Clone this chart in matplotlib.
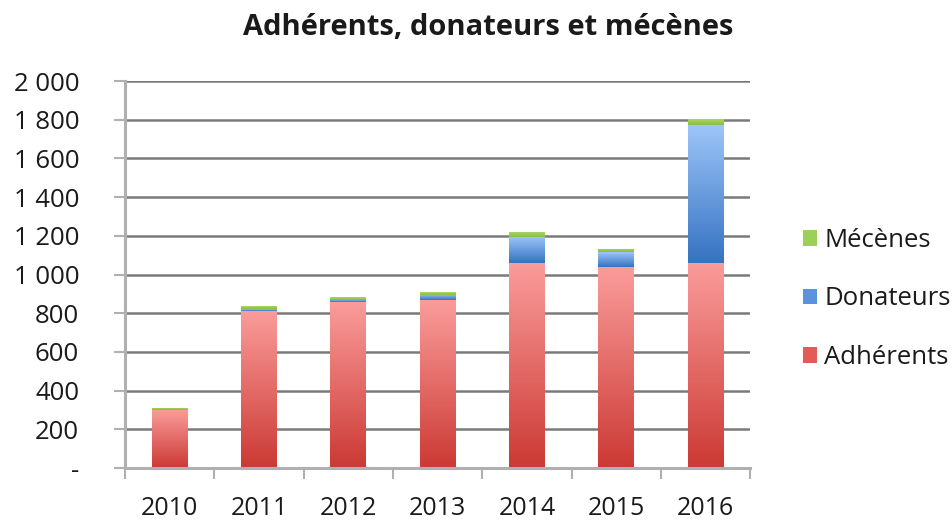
import matplotlib
matplotlib.use("Agg")
import matplotlib.pyplot as plt
import numpy as np
from matplotlib.colors import LinearSegmentedColormap
from matplotlib.patches import Patch
from matplotlib.ticker import FixedLocator, FuncFormatter

plt.rcParams['font.family'] = ['Open Sans', 'DejaVu Sans']

years = ["2010", "2011", "2012", "2013", "2014", "2015", "2016"]
adherents = [300, 813, 856, 868, 1060, 1040, 1060]
donateurs = [0, 8, 15, 28, 135, 75, 715]
mecenes = [12, 14, 14, 14, 25, 17, 30]
series_names = ["Adhérents", "Donateurs", "Mécènes"]
y_ticks = [0, 200, 400, 600, 800, 1000, 1200, 1400, 1600, 1800, 2000]

colors_top = ["#FA9C9A", "#9DC5F8", "#AAD466"]
colors_bot = ["#CC3A35", "#3673C2", "#8BBE3E"]
colors_mid = ["#E35A56", "#5A92DE", "#9CD05A"]

fig = plt.figure(figsize=(9.53, 5.20), dpi=100)
ax = fig.add_axes([0.1312, 0.1, 0.656, 0.744])

x = np.arange(len(years))
width = 0.4
bottom = np.zeros(len(years))
series = [adherents, donateurs, mecenes]
grad = np.linspace(0, 1, 64).reshape(-1, 1)
for i, vals in enumerate(series):
    vals = np.array(vals, dtype=float)
    bars = ax.bar(x, vals, width, bottom=bottom, color=colors_mid[i], zorder=3, linewidth=0)
    cmap = LinearSegmentedColormap.from_list(f"g{i}", [colors_bot[i], colors_top[i]])
    for b in bars:
        if b.get_height() <= 0:
            continue
        bx, by, bw, bh = b.get_x(), b.get_y(), b.get_width(), b.get_height()
        im = ax.imshow(grad, extent=[bx, bx + bw, by, by + bh], origin='lower',
                       cmap=cmap, aspect='auto', zorder=3.5, interpolation='bilinear')
        im.set_clip_path(b)
    bottom += vals

ax.set_xlim(-0.5, len(years) - 0.5)
ax.set_ylim(0, 2000)

ax.yaxis.set_major_locator(FixedLocator(y_ticks))
def fmt(v, pos):
    if v == 0:
        return "-"
    return f"{int(v):,}".replace(",", " ")
ax.yaxis.set_major_formatter(FuncFormatter(fmt))
ax.grid(axis='y', color='#7a7a7a', linewidth=1.8, zorder=1)

ax.set_xticks(x)
ax.set_xticklabels(years)
ax.set_xticks(np.arange(-0.5, len(years), 1.0), minor=True)
ax.tick_params(axis='x', which='major', length=0, pad=20, labelsize=18, colors='#1a1a1a')
ax.tick_params(axis='x', which='minor', length=8, width=1.5, color='#b0b0b0', direction='out')
ax.tick_params(axis='y', which='major', length=8, width=1.5, color='#b0b0b0', pad=25,
               labelsize=18.5, labelcolor='#1a1a1a')

for s in ['top', 'right']:
    ax.spines[s].set_visible(False)
for s in ['left', 'bottom']:
    ax.spines[s].set_color('#b0b0b0')
    ax.spines[s].set_linewidth(2.2)
    ax.spines[s].set_zorder(4)

fig.text(0.5126, 0.947, "Adhérents, donateurs et mécènes", ha='center', va='center',
         fontsize=21, fontweight='bold', color='#1a1a1a')

handles = [Patch(facecolor=colors_mid[i], edgecolor='none') for i in [2, 1, 0]]
labels = [series_names[i] for i in [2, 1, 0]]
fig.legend(handles, labels, loc='center left', bbox_to_anchor=(0.8426, 0.425), frameon=False,
           fontsize=18.5, handlelength=0.55, handleheight=0.55, handletextpad=0.27,
           labelspacing=1.3, borderpad=0, borderaxespad=0, labelcolor='#1a1a1a')

fig.savefig("out.png", dpi=100)
